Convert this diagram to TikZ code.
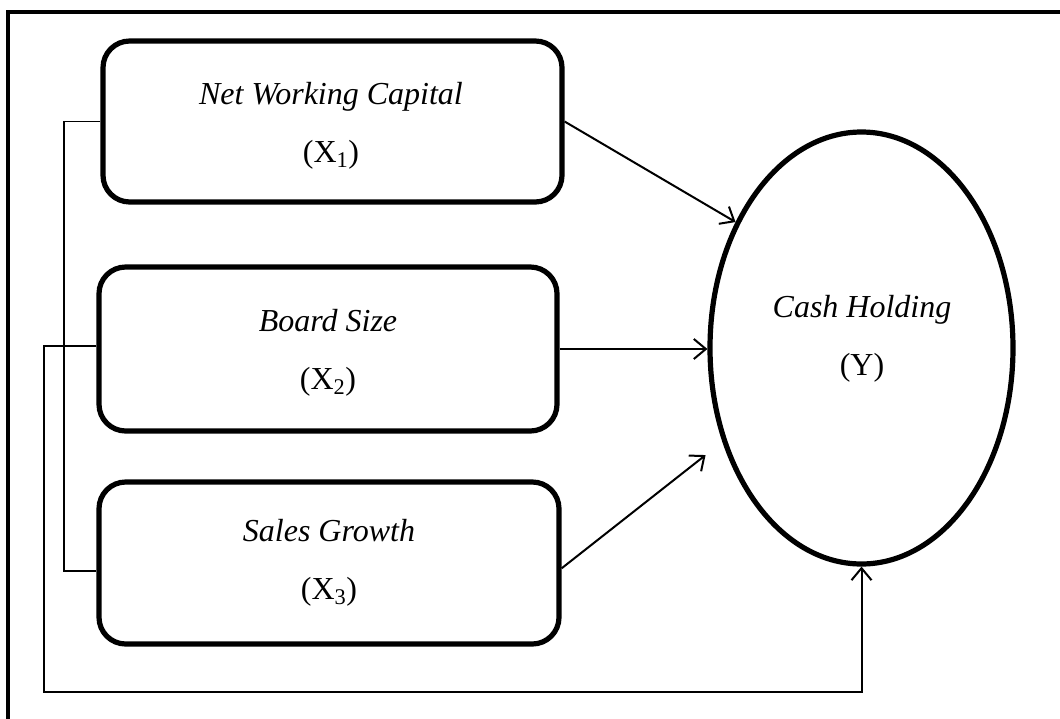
\documentclass[tikz,border=0pt]{standalone}
\usepackage{fontspec}
\setmainfont{Liberation Serif}
\usetikzlibrary{arrows.meta,shapes.geometric,calc}
\begin{document}
\begin{tikzpicture}[x=0.75pt,y=-0.75pt,
  varbox/.style={draw,line width=3.9pt,rounded corners=20pt,inner sep=0pt},
  depell/.style={draw,ellipse,line width=3.9pt,inner sep=0pt,
    minimum width=227.25pt,minimum height=324pt},
  lbl/.style={align=center,inner sep=0pt,font=\fontsize{24}{43.5}\selectfont},
  link/.style={line width=1.2pt},
  arr/.style={line width=1.5pt,-{Straight Barb[length=9pt,width=15pt,line width=1.5pt]}}
]
\useasboundingbox (0,0) rectangle (1060,718);
% frame (right and bottom sides fall outside the page)
\draw[line width=3pt] (8,740) -- (8,12) -- (1080,12);

\node[varbox,minimum width=344.25pt,minimum height=120.75pt] (b1) at (332.5,121.5) {};
\node[varbox,minimum width=343.5pt,minimum height=123pt] (b2) at (328,349) {};
\node[varbox,minimum width=345pt,minimum height=121.5pt] (b3) at (329,563) {};
\node[depell] (e) at (861.5,348) {};

\node[lbl] (t1) at (331,125.5) {\textit{Net Working Capital}\\(X\textsubscript{1})};
\node[lbl] (t2) at (328,353) {\textit{Board Size}\\(X\textsubscript{2})};
\node[lbl] (t3) at (329,563) {\textit{Sales Growth}\\(X\textsubscript{3})};
\node[lbl] (ty) at (862,339) {\textit{Cash Holding}\\(Y)};

% arrows into the ellipse
\draw[arr] (b1.east) -- (e.135);
\draw[arr] (b2.east) -- (b2.east -| e.west);
\draw[arr,shorten >=16pt] ([yshift=-4pt]b3.east) -- (e.214);

% left connectors
\draw[link] (b1.west) -| (64,400) |- ([yshift=-6pt]b3.west);
\draw[arr] ([yshift=2pt]b2.west) -| (44,692) -| (e.south);
\end{tikzpicture}
\end{document}
